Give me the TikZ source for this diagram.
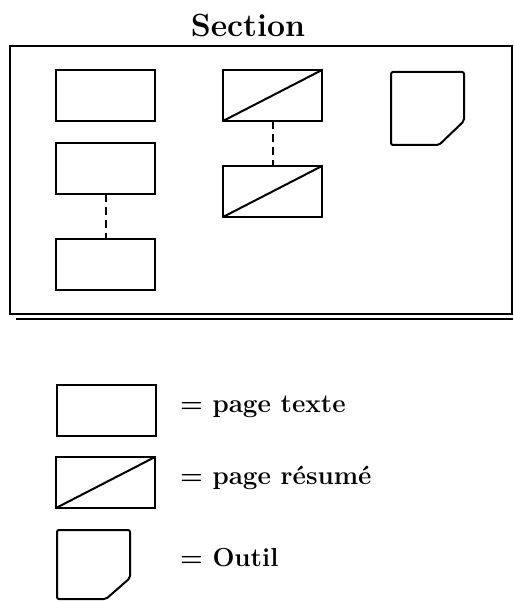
\documentclass[tikz,border=0pt]{standalone}
\usetikzlibrary{calc}
\begin{document}
\begin{tikzpicture}[x=1pt,y=-1pt,line width=2pt,line join=miter,
  pagebox/.style={draw,minimum width=99pt,minimum height=51pt,inner sep=0pt,outer sep=0pt,anchor=north west},
  link/.style={dashed,dash pattern=on 8pt off 5pt},
  lbl/.style={anchor=base west,inner sep=0pt,font=\fontsize{26}{30}\selectfont\bfseries},
  toolshape/.style={draw,rounded corners=2pt}]
\useasboundingbox (0,0) rectangle (513,601);
\node[anchor=base,inner sep=0pt,font=\fontsize{32}{38}\selectfont\bfseries] (title) at (248,37) {Section};
\node[draw,inner sep=0pt,outer sep=0pt,minimum width=502pt,minimum height=268pt,anchor=north west] (frame) at (10,46) {};
\coordinate (dl) at (16,319);
\coordinate (dr) at (513,319);
\draw (dl) -- (dr);
% text pages
\node[pagebox] (t1) at (56,70) {};
\node[pagebox] (t2) at (56,143) {};
\node[pagebox] (t3) at (56,239) {};
\draw[link] (t2.south) -- (t3.north);
% summary pages
\node[pagebox] (r1) at (223,70) {};
\node[pagebox] (r2) at (223,166) {};
\draw (r1.south west) -- (r1.north east);
\draw (r2.south west) -- (r2.north east);
\draw[link] (r1.south) -- (r2.north);
% tool
\draw[toolshape] (391,72) -- (464,72) -- (464,121) -- (439,145) -- (391,145) -- cycle;
% legend
\node[pagebox] (lt) at (57,385) {};
\node[pagebox] (lr) at (56,457) {};
\draw (lr.south west) -- (lr.north east);
\draw[toolshape] (57,530) -- (130,530) -- (130,578) -- (106,599) -- (57,599) -- cycle;
\node[lbl] (ltx) at (179,412) {= page texte};
\node[lbl] (lrx) at (179,484) {= page résumé};
\node[lbl] (lox) at (179,566) {= Outil};
\end{tikzpicture}
\end{document}
